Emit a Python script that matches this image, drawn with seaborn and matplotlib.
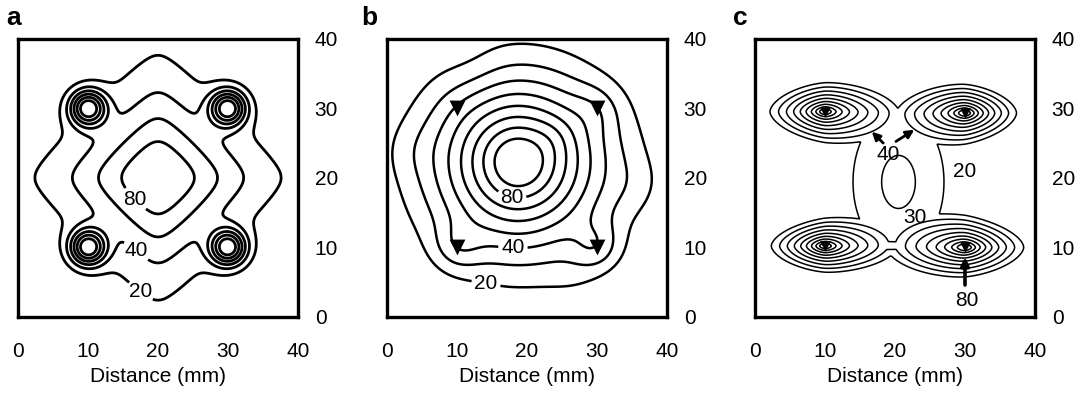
import numpy as np
import matplotlib
matplotlib.use("Agg")
import matplotlib.pyplot as plt
import seaborn as sns

sns.set_theme(style="white")
plt.rcParams['font.family'] = ['Liberation Sans', 'DejaVu Sans']

# electrode positions (mm)
elec_x = [10, 30, 10, 30]
elec_y = [30, 30, 10, 10]

ticks = [0, 10, 20, 30, 40]
tick_labels = ['0', '10', '20', '30', '40']
inner_ticks = [10, 20, 30]

# --- panel a : central peak + four small spots on the electrodes
a_levels = [20, 40, 60, 80, 100, 120]
a_center = (20, 20)
a_peak = 99
a_scale, a_shape, a_norm, a_round = 11.6, 1.42, 1.05, 1.5
a_spot_height = 125
a_spot_width = 2.5
a_label_levels = [80, 40, 20]
a_label_xy = [(17.4, 17.6), (16.5, 9.0), (17.0, 3.0)]

# --- panel b : one irregular peak, pulled out towards the electrodes
b_levels = [20, 30, 40, 50, 60, 70, 80, 90]
b_center = (18.7, 22.3)
b_peak = 105
b_scale, b_shape, b_norm = 12.7, 1.45, 2.0
b_left_squeeze, b_top_squeeze = 1.05, 1.06
b_bump_x = [10, 30, 10, 30, 36, 3, 27, 12, 24]
b_bump_y = [30, 30, 10, 10, 19, 24, 5, 36, 26]
b_bump_h = [1, 7, 12, 15, 4, 3, 3, -3, 3]
b_bump_w = [2.5, 2.5, 2.5, 2.5, 3.0, 3.0, 3.0, 3.0, 2.0]
b_label_levels = [80, 40, 20]
b_label_xy = [(18.0, 18.2), (18.0, 10.2), (14.3, 5.7)]

# --- panel c : four elongated peaks joined by a weak central ridge
c_levels = [20, 30, 40, 50, 60, 70, 80, 90, 100]
c_peak_x = [10, 30, 10, 30]
c_peak_y = [29.5, 29.3, 10.2, 10.0]
c_half_x = [7.8, 7.25, 7.6, 8.3]
c_half_y = [3.9, 3.8, 3.5, 3.9]
c_peak = 120
c_peak_exp, c_peak_reach = 0.6, 1.355
c_ridge_h = 32
c_ridge_xy = (20.5, 19.4)
c_ridge_s = (6.7, 10.6)


def pnorm(dx, dy, p):
    return (np.abs(dx) ** p + np.abs(dy) ** p) ** (1.0 / p)


def soft(d, c):
    return np.sqrt(d ** 2 + c ** 2) - c


g = np.linspace(0, 40, 401)
X, Y = np.meshgrid(g, g)

# field a
r = pnorm(soft(X - a_center[0], a_round), soft(Y - a_center[1], a_round), a_norm)
Za = a_peak * np.exp(-(r / a_scale) ** a_shape)
for ex, ey in zip(elec_x, elec_y):
    Za += a_spot_height * np.exp(-((X - ex) ** 2 + (Y - ey) ** 2) / a_spot_width ** 2)

# field b
dx = X - b_center[0]
dx = np.where(dx < 0, dx * b_left_squeeze, dx)
dy = Y - b_center[1]
dy = np.where(dy > 0, dy * b_top_squeeze, dy)
r = pnorm(dx, dy, b_norm)
Zb = b_peak * np.exp(-(r / b_scale) ** b_shape)
for bx, by, bh, bw in zip(b_bump_x, b_bump_y, b_bump_h, b_bump_w):
    Zb += bh * np.exp(-((X - bx) ** 2 + (Y - by) ** 2) / (2 * bw ** 2))

# field c
Zc = c_ridge_h * np.exp(-(X - c_ridge_xy[0]) ** 2 / (2 * c_ridge_s[0] ** 2)
                        - (Y - c_ridge_xy[1]) ** 2 / (2 * c_ridge_s[1] ** 2))
for px, py, hx, hy in zip(c_peak_x, c_peak_y, c_half_x, c_half_y):
    rr = pnorm((X - px) / hx, (Y - py) / hy, 1.7)
    Zc += c_peak * np.clip(1 - (rr / c_peak_reach) ** c_peak_exp, 0, None)

fig = plt.figure(figsize=(10.85, 3.97), dpi=100)
lefts = [18 / 1085, 387 / 1085, 755 / 1085]
axes = [fig.add_axes([l, 1 - 317 / 397, 280 / 1085, 278.5 / 397]) for l in lefts]


def style(ax):
    ax.set_xlim(0, 40)
    ax.set_ylim(0, 40)
    ax.set_xticks(ticks)
    ax.set_xticklabels(tick_labels)
    ax.set_yticks(ticks)
    ax.set_yticklabels(tick_labels)
    ax.set_xticks(inner_ticks, minor=True)
    ax.set_yticks(inner_ticks, minor=True)
    ax.yaxis.tick_right()
    ax.tick_params(which='major', length=0, labelsize=15, labelcolor='black',
                   bottom=True, top=False, left=False, right=True,
                   labelbottom=True, labelright=True, labelleft=False)
    ax.tick_params(axis='x', which='major', pad=18)
    ax.tick_params(axis='y', which='major', pad=12)
    ax.tick_params(which='minor', length=9, width=2.2, direction='out', color='black',
                   bottom=True, top=True, left=True, right=True)
    for s in ax.spines.values():
        s.set_color('black')
        s.set_linewidth(2.4)
    ax.set_xlabel('Distance (mm)', fontsize=15, color='black', labelpad=4)
    ax.set_facecolor('white')


def draw_contours(ax, Z, levels, label_levels, label_xy, lw):
    # unlabelled levels in one go, labelled ones one by one (inline gap)
    plain = [l for l in levels if l not in label_levels]
    ax.contour(X, Y, Z, levels=plain, colors='black', linewidths=lw)
    for lev, xy in zip(label_levels, label_xy):
        cs = ax.contour(X, Y, Z, levels=[lev], colors='black', linewidths=lw)
        texts = ax.clabel(cs, manual=[xy], inline=True, fmt='%d',
                          fontsize=15, inline_spacing=3)
        for t in texts:
            t.set_rotation(0)


ax = axes[0]
draw_contours(ax, Za, a_levels, a_label_levels, a_label_xy, 2.0)
style(ax)

ax = axes[1]
draw_contours(ax, Zb, b_levels, b_label_levels, b_label_xy, 1.8)
sns.scatterplot(x=elec_x, y=elec_y, marker='v', s=130, color='black',
                linewidth=0, legend=False, ax=ax, zorder=5)
style(ax)

ax = axes[2]
ax.contour(X, Y, Zc, levels=c_levels, colors='black', linewidths=1.1)
sns.scatterplot(x=c_peak_x, y=c_peak_y, marker='v', s=60, color='black',
                linewidth=0, legend=False, ax=ax, zorder=5)
arrow = dict(arrowstyle='-|>', color='black', lw=2.0, mutation_scale=12)
ax.annotate('', xy=(16.4, 26.9), xytext=(18.6, 24.7), arrowprops=arrow)
ax.annotate('', xy=(23.1, 27.1), xytext=(19.8, 25.0), arrowprops=arrow)
ax.annotate('', xy=(30.0, 9.0), xytext=(30.0, 4.2),
            arrowprops=dict(arrowstyle='-|>', color='black', lw=2.6, mutation_scale=12))
for txt, tx, ty in [('40', 19.0, 23.3), ('20', 30.0, 20.9), ('30', 22.9, 14.3), ('80', 30.3, 2.3)]:
    ax.text(tx, ty, txt, fontsize=15, ha='center', va='center', color='black')
style(ax)

for letter, lx in zip(['a', 'b', 'c'], [6, 361, 733]):
    fig.text(lx / 1085, 1 - 25 / 397, letter, fontsize=19, fontweight='bold',
             va='baseline', color='black')

fig.savefig('out.png', dpi=100)
